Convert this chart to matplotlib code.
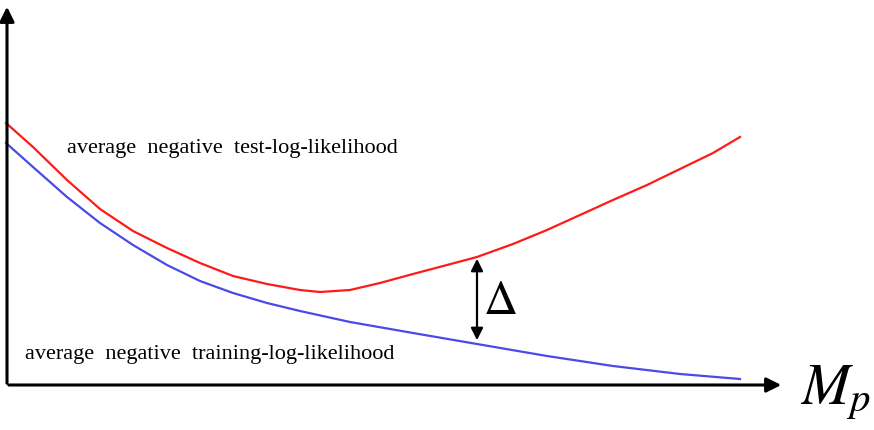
import numpy as np
import matplotlib.pyplot as plt

# curve samples (pixel-like coordinates, y grows downward)
x_test = [6, 33, 67, 100, 133, 167, 200, 233, 267, 300, 320, 350, 380, 413, 447,
          477, 513, 547, 580, 613, 647, 680, 713, 740]
y_test = [123, 147, 180, 209, 231, 248, 263, 276, 284, 290, 292, 290, 283, 274, 265,
          257, 244, 230, 215, 200, 185, 169, 153, 137]

x_train = [6, 33, 67, 100, 133, 167, 200, 233, 267, 300, 350, 413, 477, 547, 613, 680, 740]
y_train = [143, 167, 197, 223, 245, 265, 281, 293, 303, 311, 322, 333, 344, 356, 366, 374, 379]

label_test = "average  negative  test-log-likelihood"
label_train = "average  negative  training-log-likelihood"

plt.rcParams["mathtext.fontset"] = "stix"

fig = plt.figure(figsize=(8.74, 4.30), dpi=100)
ax = fig.add_axes([0, 0, 1, 1])
ax.set_xlim(0, 874)
ax.set_ylim(430, 0)
ax.axis("off")

# axes with arrowheads
ax.annotate("", xy=(7, 4), xytext=(7, 386),
            arrowprops=dict(arrowstyle="-|>", color="black", lw=2.2, mutation_scale=22))
ax.annotate("", xy=(784, 385), xytext=(6, 385),
            arrowprops=dict(arrowstyle="-|>", color="black", lw=2.2, mutation_scale=22))

# curves
ax.plot(x_test, y_test, color="#ff1a1a", lw=1.6, solid_joinstyle="round")
ax.plot(x_train, y_train, color="#4a4ae6", lw=1.6, solid_joinstyle="round")

# gap arrow
ax.annotate("", xy=(477, 256), xytext=(477, 343),
            arrowprops=dict(arrowstyle="<|-|>", color="black", lw=1.6, mutation_scale=18))
ax.text(483, 302, r"$\Delta$", fontsize=34, va="center", ha="left")

# labels
ax.text(67, 148, label_test, fontsize=16, family="Liberation Serif", va="center", ha="left")
ax.text(25, 355, label_train, fontsize=16, family="Liberation Serif", va="center", ha="left")
ax.text(800, 392, r"$M_p$", fontsize=42, va="center", ha="left")

fig.savefig("out.png", dpi=100)
